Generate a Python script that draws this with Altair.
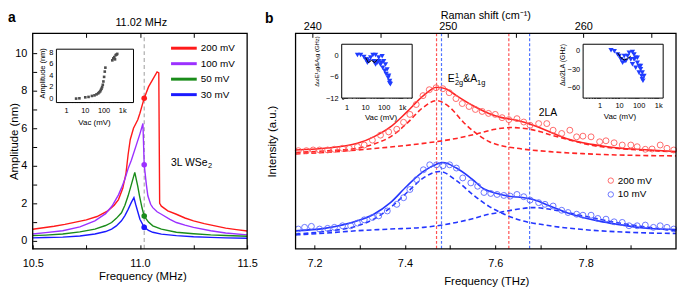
import altair as alt
import pandas as pd

FONT = "Liberation Sans"
W, H = 677, 281

# ---------------- panel a : resonance curves (amplitude vs frequency) ----------------
a_series = ["200 mV", "100 mV", "50 mV", "30 mV"]
a_colors = ["#ff1a1a", "#9b30ff", "#1a8c1a", "#1a1aff"]

a200_f = [10.50, 10.55, 10.60, 10.65, 10.70, 10.75, 10.80, 10.85, 10.88, 10.90, 10.92, 10.935, 10.945, 10.955, 10.97,
          10.99, 11.00, 11.02, 11.04, 11.06, 11.08, 11.088, 11.092, 11.10, 11.13, 11.17, 11.21, 11.25, 11.30, 11.35,
          11.40, 11.45, 11.50]
a200_A = [0.62, 0.70, 0.78, 0.88, 1.00, 1.12, 1.30, 1.60, 1.90, 2.20, 2.80, 3.60, 4.60, 5.40, 6.00,
          6.45, 6.80, 7.60, 8.20, 8.60, 9.00, 8.95, 2.00, 1.85, 1.60, 1.42, 1.22, 1.07, 0.92, 0.80,
          0.68, 0.60, 0.53]
a100_f = [10.50, 10.56, 10.64, 10.72, 10.79, 10.84, 10.87, 10.90, 10.915, 10.93, 10.945, 10.96, 10.983, 11.00, 11.014,
          11.02, 11.03, 11.037, 11.05, 11.06, 11.08, 11.10, 11.14, 11.17, 11.21, 11.25, 11.33, 11.40, 11.50]
a100_A = [0.37, 0.44, 0.54, 0.75, 1.07, 1.45, 1.86, 2.45, 2.85, 3.30, 3.85, 4.30, 5.10, 5.70, 6.25,
          4.05, 3.00, 2.40, 1.95, 1.77, 1.55, 1.42, 1.15, 0.98, 0.84, 0.72, 0.54, 0.42, 0.32]
a50_f = [10.50, 10.56, 10.64, 10.72, 10.79, 10.84, 10.868, 10.89, 10.914, 10.93, 10.945, 10.96, 10.976, 10.99, 10.998,
         11.01, 11.02, 11.04, 11.06, 11.10, 11.17, 11.25, 11.33, 11.40, 11.50]
a50_A = [0.28, 0.31, 0.37, 0.48, 0.63, 0.82, 0.98, 1.20, 1.50, 1.90, 2.40, 3.00, 3.65, 2.90, 2.40,
         1.75, 1.32, 1.00, 0.80, 0.63, 0.46, 0.38, 0.32, 0.29, 0.25]
a30_f = [10.50, 10.56, 10.64, 10.72, 10.79, 10.84, 10.868, 10.89, 10.914, 10.93, 10.945, 10.96, 10.972, 10.98, 10.99,
         11.00, 11.02, 11.04, 11.06, 11.10, 11.17, 11.25, 11.33, 11.40, 11.50]
a30_A = [0.16, 0.18, 0.20, 0.26, 0.37, 0.50, 0.63, 0.80, 1.07, 1.35, 1.68, 2.05, 2.30, 1.95, 1.55,
         1.15, 0.72, 0.56, 0.46, 0.36, 0.28, 0.22, 0.19, 0.16, 0.14]
a_probe_f = 11.02
a_probe_A = [7.60, 4.05, 1.32, 0.72]

# inset a : amplitude vs Vac
ia_v = [3.4, 5.1, 10.5, 15.7, 23.8, 32.7, 42, 51.5, 58, 65.6, 71.5, 77.5, 84, 91, 98, 107, 116, 125,
        294, 333, 375, 410, 445, 501, 540]
ia_A = [0.0, 0.05, 0.22, 0.29, 0.46, 0.56, 0.73, 0.90, 1.07, 1.24, 1.48, 1.70, 1.99, 2.38, 2.95, 3.74, 4.65, 5.33,
        6.59, 6.93, 7.15, 6.76, 7.49, 7.60, 7.70]

# ---------------- panel b : Raman spectra ----------------
b_samples = ["200 mV", "10 mV"]
b200_pt_f = [7.164, 7.182, 7.197, 7.211, 7.229, 7.244, 7.262, 7.277, 7.295, 7.310, 7.328, 7.346, 7.364, 7.382, 7.397,
             7.411, 7.425, 7.440, 7.454, 7.469, 7.484, 7.498, 7.513, 7.527, 7.542, 7.556, 7.571, 7.585, 7.600, 7.615,
             7.630, 7.648, 7.663, 7.677, 7.696, 7.714, 7.728, 7.747, 7.765, 7.780, 7.794, 7.812, 7.831, 7.845, 7.863,
             7.881, 7.900, 7.914, 7.932, 7.947, 7.965, 7.980, 7.995]
b200_pt_I = [99.3, 99.3, 100, 100, 100, 100.7, 101.7, 101.7, 103.3, 105, 110, 115, 118.3, 121, 128,
             136, 146, 155, 161, 163, 162, 158, 152, 147, 144, 141, 139, 137, 136, 132.7,
             130.7, 131.7, 128.3, 125, 126.7, 126.7, 120, 116.7, 120, 113.3, 114, 113.3, 108.3, 109.3, 107.3,
             105, 105, 103.3, 100.7, 101, 105, 101.7, 100]
b10_pt_f = [7.164, 7.178, 7.193, 7.211, 7.229, 7.244, 7.262, 7.280, 7.295, 7.310, 7.328, 7.342, 7.361, 7.382, 7.397,
            7.411, 7.426, 7.441, 7.455, 7.470, 7.484, 7.499, 7.514, 7.528, 7.546, 7.561, 7.575, 7.590, 7.604, 7.619,
            7.633, 7.648, 7.663, 7.677, 7.696, 7.710, 7.728, 7.747, 7.761, 7.780, 7.794, 7.812, 7.827, 7.845, 7.863,
            7.881, 7.896, 7.914, 7.932, 7.950, 7.965, 7.980, 7.995]
b10_pt_I = [20, 21.7, 22.7, 20, 20.7, 21.7, 23.3, 23.3, 26, 29.3, 31.7, 33.3, 38.3, 45, 51.7,
            60, 70, 80, 85, 85, 84, 85, 81.7, 71.7, 66.7, 63.3, 57, 56, 55, 54,
            53.3, 55, 52.7, 49.3, 46.7, 45, 43.3, 39, 36.7, 35, 34, 34, 30.7, 30, 27.3,
            26.7, 23.3, 23.3, 24, 21.7, 23.3, 21.7, 20]

b200_fit_f = [7.158, 7.222, 7.295, 7.331, 7.368, 7.404, 7.441, 7.470, 7.490, 7.514, 7.550, 7.586, 7.612, 7.648, 7.684,
              7.721, 7.757, 7.794, 7.830, 7.867, 7.940, 8.000]
b200_fit_I = [100, 101.7, 106.7, 113.3, 123.3, 138.3, 155, 163.5, 162, 155, 145, 137, 133, 130, 125,
              118.3, 111.7, 107.3, 104.5, 102.3, 100, 98.5]
b200_e_f = [7.158, 7.222, 7.295, 7.331, 7.368, 7.404, 7.441, 7.470, 7.499, 7.529, 7.558, 7.587, 7.612, 7.648, 7.721,
            7.794, 7.867, 7.940, 8.000]
b200_e_I = [97.5, 99, 101.7, 106, 113.3, 126.7, 143.3, 150, 143.3, 128.3, 116.7, 108.3, 104.5, 101.7, 98.3,
            96.3, 95, 94.3, 94]
b200_la_f = [7.158, 7.222, 7.295, 7.368, 7.441, 7.514, 7.560, 7.600, 7.634, 7.670, 7.700, 7.721, 7.757, 7.794, 7.830,
             7.867, 7.940, 8.000]
b200_la_I = [96, 97.5, 100, 103, 106.7, 111.7, 116.5, 121, 122.7, 121.5, 118.5, 115.5, 111, 106.7, 103.5,
             101.7, 99.5, 98]
b10_fit_f = [7.158, 7.222, 7.295, 7.331, 7.368, 7.404, 7.441, 7.470, 7.484, 7.514, 7.550, 7.575, 7.600, 7.634, 7.660,
             7.684, 7.721, 7.757, 7.794, 7.830, 7.867, 7.940, 8.000]
b10_fit_I = [18.3, 20.7, 28.3, 35, 46.7, 63.3, 78.3, 85.5, 87.3, 81.7, 70, 60.5, 56.5, 53, 52,
             50, 43.3, 36.7, 31.7, 28, 25, 20.5, 19.5]
b10_e_f = [7.158, 7.222, 7.295, 7.331, 7.368, 7.404, 7.441, 7.477, 7.514, 7.550, 7.586, 7.620, 7.648, 7.721, 7.794,
           7.867, 7.940, 8.000]
b10_e_I = [15, 17.5, 23.3, 30, 41.7, 56.7, 71.7, 78.3, 69, 55, 43, 35, 30, 23.3, 19.5,
           17.3, 16, 15.5]
b10_la_f = [7.158, 7.222, 7.295, 7.368, 7.441, 7.514, 7.550, 7.586, 7.612, 7.648, 7.684, 7.721, 7.757, 7.794, 7.830,
            7.867, 7.940, 8.000]
b10_la_I = [14, 15.8, 18.3, 20, 21.7, 26.7, 30.5, 35, 37, 40, 41.7, 40, 37, 33.3, 30,
            26.7, 21.7, 18]
b_peak_f_200 = [7.470, 7.630]
b_peak_f_10 = [7.481, 7.676]

# inset b1 : E2g & A1g shift vs Vac
ib1_v = [3.9, 5.8, 8.7, 10.8, 13.3, 20, 26.5, 37, 55, 84, 45, 68, 90, 116, 138, 177, 214, 233, 127, 102,
         55, 30, 16, 155, 190, 13.3, 37, 78, 210]
ib1_d = [0, 0, -0.55, -1.2, -2.1, -0.7, 0, 0, -0.7, -0.3, -2.1, -2.6, -3.5, -4.4, -5.3, -6.3, -7.2, -8.1, -2.6, -1.7,
         -1.7, -1.7, -1.7, -4.0, -5.8, -1.2, -2.6, -2.1, -7.8]
ib1_line_v = [10.8, 15, 22.5, 34, 45]
ib1_line_d = [-0.7, -2.1, -1.5, -2.1, -1.2]
# inset b2 : 2LA shift vs Vac
ib2_v = [3.85, 5.7, 8.4, 12.3, 15.1, 18.3, 26.9, 32.6, 48, 58.3, 70.6, 86, 104, 126, 153, 188, 153, 126, 70.6, 48,
         22, 39.4, 10.2, 18.3, 58.3, 86, 104, 142, 166]
ib2_d = [0, -1.6, -6.7, -14.6, -19.9, -17.2, -9.4, -4.2, -3.1, -6.7, -12, -19.9, -25, -30.3, -35.6, -40.8, -46, -25,
         -27.7, -22.4, -17.2, -14.6, -9.4, -9.4, -14.6, -12, -35.6, -40.8, -48.6]
ib2_line_v = [8.4, 12.3, 18.3, 26.9, 39.4]
ib2_line_d = [-4.2, -12, -15.7, -13.6, -9.4]

RED, BLUE = "#ff2424", "#2436ff"
RED_PT, BLUE_PT = "#ff5a5a", "#5a68ff"
RED_VL, BLUE_VL = "#ff5252", "#4f73ff"
TRI = "#1f3cff"

# ---------------- tables ----------------
def long_table(names, fs, vs, fcol, vcol, key):
    rows = []
    for n, f_list, v_list in zip(names, fs, vs):
        for i, (f, v) in enumerate(zip(f_list, v_list)):
            rows.append({key: n, fcol: f, vcol: v, "i": i})
    return pd.DataFrame(rows)

df_a = long_table(a_series, [a200_f, a100_f, a50_f, a30_f], [a200_A, a100_A, a50_A, a30_A], "f", "A", "series")
df_dots = pd.DataFrame({"series": a_series, "f": [a_probe_f] * 4, "A": a_probe_A})
df_ia = pd.DataFrame({"v": ia_v, "A": ia_A})
df_leg_a = pd.DataFrame({"series": a_series})

df_fit = long_table(["r", "b"], [b200_fit_f, b10_fit_f], [b200_fit_I, b10_fit_I], "f", "I", "curve")
df_fit["sample"] = df_fit["curve"].map({"r": "200 mV", "b": "10 mV"})
df_comp = long_table(["re", "rl", "be", "bl"], [b200_e_f, b200_la_f, b10_e_f, b10_la_f],
                     [b200_e_I, b200_la_I, b10_e_I, b10_la_I], "f", "I", "curve")
df_comp["sample"] = df_comp["curve"].map({"re": "200 mV", "rl": "200 mV", "be": "10 mV", "bl": "10 mV"})
df_pts = long_table(b_samples, [b200_pt_f, b10_pt_f], [b200_pt_I, b10_pt_I], "f", "I", "sample")
df_vl_r = pd.DataFrame({"f": b_peak_f_200})
df_vl_b = pd.DataFrame({"f": b_peak_f_10})
df_ib1 = pd.DataFrame({"v": ib1_v, "d": ib1_d})
df_ib1l = pd.DataFrame({"v": ib1_line_v, "d": ib1_line_d, "i": range(len(ib1_line_v))})
df_ib2 = pd.DataFrame({"v": ib2_v, "d": ib2_d})
df_ib2l = pd.DataFrame({"v": ib2_line_v, "d": ib2_line_d, "i": range(len(ib2_line_v))})
df_leg_b = pd.DataFrame({"sample": b_samples})
one = pd.DataFrame({"k": [0]})

# ---------------- helpers ----------------
def sc(domain, rng, kind=None):
    if kind:
        return alt.Scale(type=kind, domain=domain, range=rng, nice=False)
    return alt.Scale(domain=domain, range=rng, nice=False, zero=False)

def axis(**kw):
    base = dict(grid=False, domain=False, labelFlush=False, labelOverlap=False, tickColor="black",
                tickWidth=1, labelColor="black", titleColor="black", labelFont=FONT, titleFont=FONT,
                titleFontWeight="normal")
    base.update(kw)
    return alt.Axis(**base)

def logticks(lo, hi):
    out = []
    for e in range(-1, 4):
        for m in range(1, 10):
            v = round(m * 10 ** e, 6)
            if lo < v < hi:
                out.append(v)
    return out

LOGLAB = "datum.value == 1 ? '1' : datum.value == 10 ? '10' : datum.value == 100 ? '100' : datum.value == 1000 ? '1k' : ''"

def txt(text, x, y, size, **kw):
    return alt.Chart(one).mark_text(text=text, fontSize=size, font=FONT, align="left",
                                    baseline="alphabetic", color="black", **kw).encode(x=x, y=y)

# ---------------- panel a ----------------
AX = sc([10.5, 11.5], [25, 242])
AY = sc([-0.42, 11.05], [242, 24])
a_xaxis = axis(orient="bottom", offset=238 - H, values=[10.5, 10.75, 11.0, 11.25, 11.5],
               labelExpr="round(datum.value*4) % 2 == 0 ? format(datum.value, '.1f') : ''",
               tickSize=4, labelPadding=9.2, labelFontSize=11, title="Frequency (MHz)", titleFontSize=11.5,
               titleX=136, titleY=35.5, titleBaseline="alphabetic")
a_yaxis = axis(orient="left", offset=-29, values=list(range(0, 11)),
               labelExpr="datum.value % 2 == 0 ? datum.label : ''", tickSize=4, labelPadding=6,
               labelFontSize=11, title="Amplitude (nm)", titleFontSize=11.5, titleX=-22.5, titleY=133,
               titleBaseline="middle")

def axd(v): return alt.XDatum(v, type="quantitative", scale=AX, axis=a_xaxis)
def ayd(v): return alt.YDatum(v, type="quantitative", scale=AY, axis=a_yaxis)

a_color = alt.Color("series:N", scale=alt.Scale(domain=a_series, range=a_colors), legend=None)
a_frame = alt.Chart(one).mark_rect(fill="transparent", stroke="black", strokeWidth=1.3).encode(
    x=axd(10.5), x2=alt.X2Datum(11.5), y=ayd(-0.42), y2=alt.Y2Datum(11.05))
a_vline = alt.Chart(one).mark_rule(color="#a6a6a6", strokeDash=[4, 3], strokeWidth=1.1).encode(
    x=axd(a_probe_f), y=ayd(-0.42), y2=alt.Y2Datum(11.05))
a_lines = alt.Chart(df_a).mark_line(strokeWidth=1.4).encode(
    x=alt.X("f:Q", scale=AX, axis=a_xaxis), y=alt.Y("A:Q", scale=AY, axis=a_yaxis), color=a_color, order="i:Q")
a_dots = alt.Chart(df_dots).mark_circle(size=32, opacity=1).encode(
    x=alt.X("f:Q", scale=AX, axis=a_xaxis), y=alt.Y("A:Q", scale=AY, axis=a_yaxis), color=a_color)
a_t1 = txt("3L WSe", axd(11.145), ayd(4.0), 10.5)
a_t2 = txt("2", axd(11.145), ayd(4.0), 7.5, dx=37.5, dy=2.5)
panel_a = alt.layer(a_vline, a_lines, a_dots, a_frame, a_t1, a_t2)

a_top = alt.Chart(one).mark_text(text="11.02 MHz", fontSize=11, font=FONT, align="center",
                                 baseline="alphabetic", dx=-3, color="black").encode(
    x=alt.XDatum(a_probe_f, type="quantitative", scale=AX,
                 axis=axis(orient="top", offset=-28, values=[10.75, 11.0, 11.25], labels=False, tickSize=4,
                           title=None)),
    y=alt.value(17))

# inset a
IAX = sc([0.3, 4000], [49, 127], "log")
IAY = sc([-0.68, 8.51], [94, 40])
ia_xaxis = axis(orient="bottom", offset=92 - H, values=logticks(0.3, 4000), labelExpr=LOGLAB, tickSize=2,
                labelPadding=3.7, labelFontSize=7.5, title="Vac (mV)", titleFontSize=8, titleX=87, titleY=24,
                titleBaseline="alphabetic")
ia_yaxis = axis(orient="left", offset=-51, values=[0, 2, 4, 6, 8], tickSize=2, labelPadding=3.5,
                labelFontSize=7.5, title="Amplitude (nm)", titleFontSize=7.5, titleX=-15.7, titleY=64,
                titleBaseline="middle")
ia_frame = alt.Chart(one).mark_rect(fill="white", stroke="black", strokeWidth=1).encode(
    x=alt.XDatum(0.3, type="quantitative", scale=IAX, axis=ia_xaxis), x2=alt.X2Datum(4000),
    y=alt.YDatum(-0.68, type="quantitative", scale=IAY, axis=ia_yaxis), y2=alt.Y2Datum(8.51))
ia_pts = alt.Chart(df_ia).mark_square(size=7, color="#4d4d4d", opacity=1).encode(
    x=alt.X("v:Q", scale=IAX, axis=ia_xaxis), y=alt.Y("A:Q", scale=IAY, axis=ia_yaxis))
inset_a = alt.layer(ia_frame, ia_pts)

# legend a
la_y = alt.Y("series:N", scale=alt.Scale(type="point", domain=a_series, range=[39, 86], padding=0), axis=None)
legend_a = alt.layer(
    alt.Chart(df_leg_a).mark_rule(strokeWidth=3).encode(x=alt.value(165), x2=alt.value(191), y=la_y, color=a_color),
    alt.Chart(df_leg_a).mark_text(align="left", baseline="middle", fontSize=10, font=FONT, color="black").encode(
        x=alt.value(195), y=la_y, text="series:N"),
)

# ---------------- panel b ----------------
BX = sc([7.158, 8.0], [291, 676])
BY = sc([0, 218], [242, 24])
b_xaxis = axis(orient="bottom", offset=238 - H, values=[7.2, 7.3, 7.4, 7.5, 7.6, 7.7, 7.8, 7.9],
               labelExpr="round(datum.value*10) % 2 == 0 ? format(datum.value, '.1f') : ''",
               tickSize=4, labelPadding=9.2, labelFontSize=11, title="Frequency (THz)", titleFontSize=11.5,
               titleX=484, titleY=40.5, titleBaseline="alphabetic")
b_yaxis = axis(orient="left", offset=-291, ticks=False, labels=False, title="Intensity (a.u.)",
               titleFontSize=11.5, titleX=-23, titleY=133, titleBaseline="middle")

def bx(): return alt.X("f:Q", scale=BX, axis=b_xaxis)
def by(): return alt.Y("I:Q", scale=BY, axis=b_yaxis)
def bxd(v): return alt.XDatum(v, type="quantitative", scale=BX, axis=b_xaxis)
def byd(v): return alt.YDatum(v, type="quantitative", scale=BY, axis=b_yaxis)

b_col = alt.Color("sample:N", scale=alt.Scale(domain=b_samples, range=[RED, BLUE]), legend=None)
b_frame = alt.Chart(one).mark_rect(fill="transparent", stroke="black", strokeWidth=1.3).encode(
    x=bxd(7.158), x2=alt.X2Datum(8.0), y=byd(0), y2=alt.Y2Datum(218))
b_vl_r = alt.Chart(df_vl_r).mark_rule(strokeWidth=1.2, strokeDash=[3, 2], color=RED_VL).encode(
    x=bx(), y=byd(0), y2=alt.Y2Datum(218))
b_vl_b = alt.Chart(df_vl_b).mark_rule(strokeWidth=1.2, strokeDash=[3, 2], color=BLUE_VL).encode(
    x=bx(), y=byd(0), y2=alt.Y2Datum(218))
b_comp = alt.Chart(df_comp).mark_line(strokeWidth=1.6, strokeDash=[5, 3], interpolate="monotone").encode(
    x=bx(), y=by(), color=b_col, detail="curve:N", order="i:Q")
b_fit = alt.Chart(df_fit).mark_line(strokeWidth=1.6, interpolate="monotone").encode(
    x=bx(), y=by(), color=b_col, detail="curve:N", order="i:Q")
b_pt_stroke = alt.Stroke("sample:N", scale=alt.Scale(domain=b_samples, range=[RED_PT, BLUE_PT]), legend=None)
b_pts = alt.Chart(df_pts).mark_point(shape="circle", filled=False, size=36, strokeWidth=0.9, opacity=1).encode(
    x=bx(), y=by(), stroke=b_pt_stroke)
E_F, E_I = 7.495, 168.5
b_ann = [
    txt("E", bxd(E_F), byd(E_I), 10.5),
    txt("1", bxd(E_F), byd(E_I), 7.5, dx=7.2, dy=-4.5),
    txt("2g", bxd(E_F), byd(E_I), 7.5, dx=7.2, dy=3),
    txt("&A", bxd(E_F), byd(E_I), 10.5, dx=15.6),
    txt("1g", bxd(E_F), byd(E_I), 7.5, dx=29.6, dy=3),
    txt("2LA", bxd(7.696), byd(134), 10.5),
]
panel_b = alt.layer(b_vl_r, b_vl_b, b_comp, b_fit, b_pts, b_frame, *b_ann)

b_top = alt.Chart(pd.DataFrame({"r": [240, 250, 260]})).mark_point(opacity=0).encode(
    x=alt.X("r:Q", scale=sc([238.76, 266.85], [291, 676]),
            axis=axis(orient="top", offset=-28, values=[240, 245, 250, 255, 260, 265],
                      labelExpr="datum.value % 10 == 0 ? datum.label : ''", tickSize=4, labelPadding=2,
                      labelFontSize=11, title="Raman shift (cm⁻¹)", titleFontSize=11, titleX=483,
                      titleY=-19.5, titleBaseline="alphabetic")),
    y=alt.value(0))

# inset b1
I1X = sc([0.55, 3500], [337.7, 409], "log")
I1Y = sc([-12, 3.03], [89.5, 35])
i1_xaxis = axis(orient="bottom", offset=87.5 - H, values=logticks(0.55, 3500), labelExpr=LOGLAB, tickSize=2,
                labelPadding=5.2, labelFontSize=7.5, title="Vac (mV)", titleFontSize=8, titleX=377, titleY=24,
                titleBaseline="alphabetic")
i1_yaxis = axis(orient="left", offset=-339.7, values=[0, -3, -6, -9, -12],
                labelExpr="datum.value % 6 == 0 ? datum.label : ''", tickSize=2, labelPadding=3.7,
                labelFontSize=7.5, title="ΔωE¹₂g&A₁g (GHz)", titleFontSize=6, titleX=-27, titleY=52,
                titleBaseline="middle")
inset_b1 = alt.layer(
    alt.Chart(one).mark_rect(fill="white", stroke="black", strokeWidth=1).encode(
        x=alt.XDatum(0.55, type="quantitative", scale=I1X, axis=i1_xaxis), x2=alt.X2Datum(3500),
        y=alt.YDatum(-12, type="quantitative", scale=I1Y, axis=i1_yaxis), y2=alt.Y2Datum(3.03)),
    alt.Chart(df_ib1).mark_point(shape="triangle-down", filled=True, size=28, color=TRI, opacity=1).encode(
        x=alt.X("v:Q", scale=I1X, axis=i1_xaxis), y=alt.Y("d:Q", scale=I1Y, axis=i1_yaxis)),
    alt.Chart(df_ib1l).mark_line(color="black", strokeWidth=1).encode(
        x=alt.X("v:Q", scale=I1X, axis=i1_xaxis), y=alt.Y("d:Q", scale=I1Y, axis=i1_yaxis), order="i:Q"),
)

# inset b2
I2X = sc([0.144, 1790], [582, 663], "log")
I2Y = sc([-76, 9.4], [89.5, 35])
i2_xaxis = axis(orient="bottom", offset=87.5 - H, values=logticks(0.144, 1790), labelExpr=LOGLAB, tickSize=2,
                labelPadding=3.9, labelFontSize=7.5, title="Vac (mV)", titleFontSize=8, titleX=618.7, titleY=22.5,
                titleBaseline="alphabetic")
i2_yaxis = axis(orient="left", offset=-584, values=[0, -15, -30, -45, -60],
                labelExpr="datum.value % 30 == 0 ? datum.label : ''", tickSize=2, labelPadding=3.5,
                labelFontSize=7.5, title="Δω2LA (GHz)", titleFontSize=7, titleX=-22.5, titleY=55.5,
                titleBaseline="middle")
inset_b2 = alt.layer(
    alt.Chart(one).mark_rect(fill="white", stroke="black", strokeWidth=1).encode(
        x=alt.XDatum(0.144, type="quantitative", scale=I2X, axis=i2_xaxis), x2=alt.X2Datum(1790),
        y=alt.YDatum(-76, type="quantitative", scale=I2Y, axis=i2_yaxis), y2=alt.Y2Datum(9.4)),
    alt.Chart(df_ib2).mark_point(shape="triangle-down", filled=True, size=28, color=TRI, opacity=1).encode(
        x=alt.X("v:Q", scale=I2X, axis=i2_xaxis), y=alt.Y("d:Q", scale=I2Y, axis=i2_yaxis)),
    alt.Chart(df_ib2l).mark_line(color="black", strokeWidth=1).encode(
        x=alt.X("v:Q", scale=I2X, axis=i2_xaxis), y=alt.Y("d:Q", scale=I2Y, axis=i2_yaxis), order="i:Q"),
)

# legend b
lb_y = alt.Y("sample:N", scale=alt.Scale(type="point", domain=b_samples, range=[173, 187], padding=0), axis=None)
legend_b = alt.layer(
    alt.Chart(df_leg_b).mark_point(shape="circle", filled=False, size=30, strokeWidth=0.9, opacity=1).encode(
        x=alt.value(610), y=lb_y, stroke=b_pt_stroke),
    alt.Chart(df_leg_b).mark_text(align="left", baseline="middle", fontSize=10, font=FONT, color="black").encode(
        x=alt.value(617), y=lb_y, text="sample:N"),
)

labels = alt.layer(
    txt("a", alt.value(0), alt.value(12), 14, fontWeight="bold"),
    txt("b", alt.value(260), alt.value(14), 14, fontWeight="bold"),
)

chart = alt.layer(
    panel_a, a_top, inset_a, legend_a, panel_b, b_top, inset_b1, inset_b2, legend_b, labels
).resolve_scale(
    x="independent", y="independent", color="independent", stroke="independent"
).properties(
    width=W, height=H, autosize=alt.AutoSizeParams(type="none"), padding=0
).configure(font=FONT).configure_view(stroke=None)

chart.save("out.html", embed_options={"renderer": "svg", "actions": False})
